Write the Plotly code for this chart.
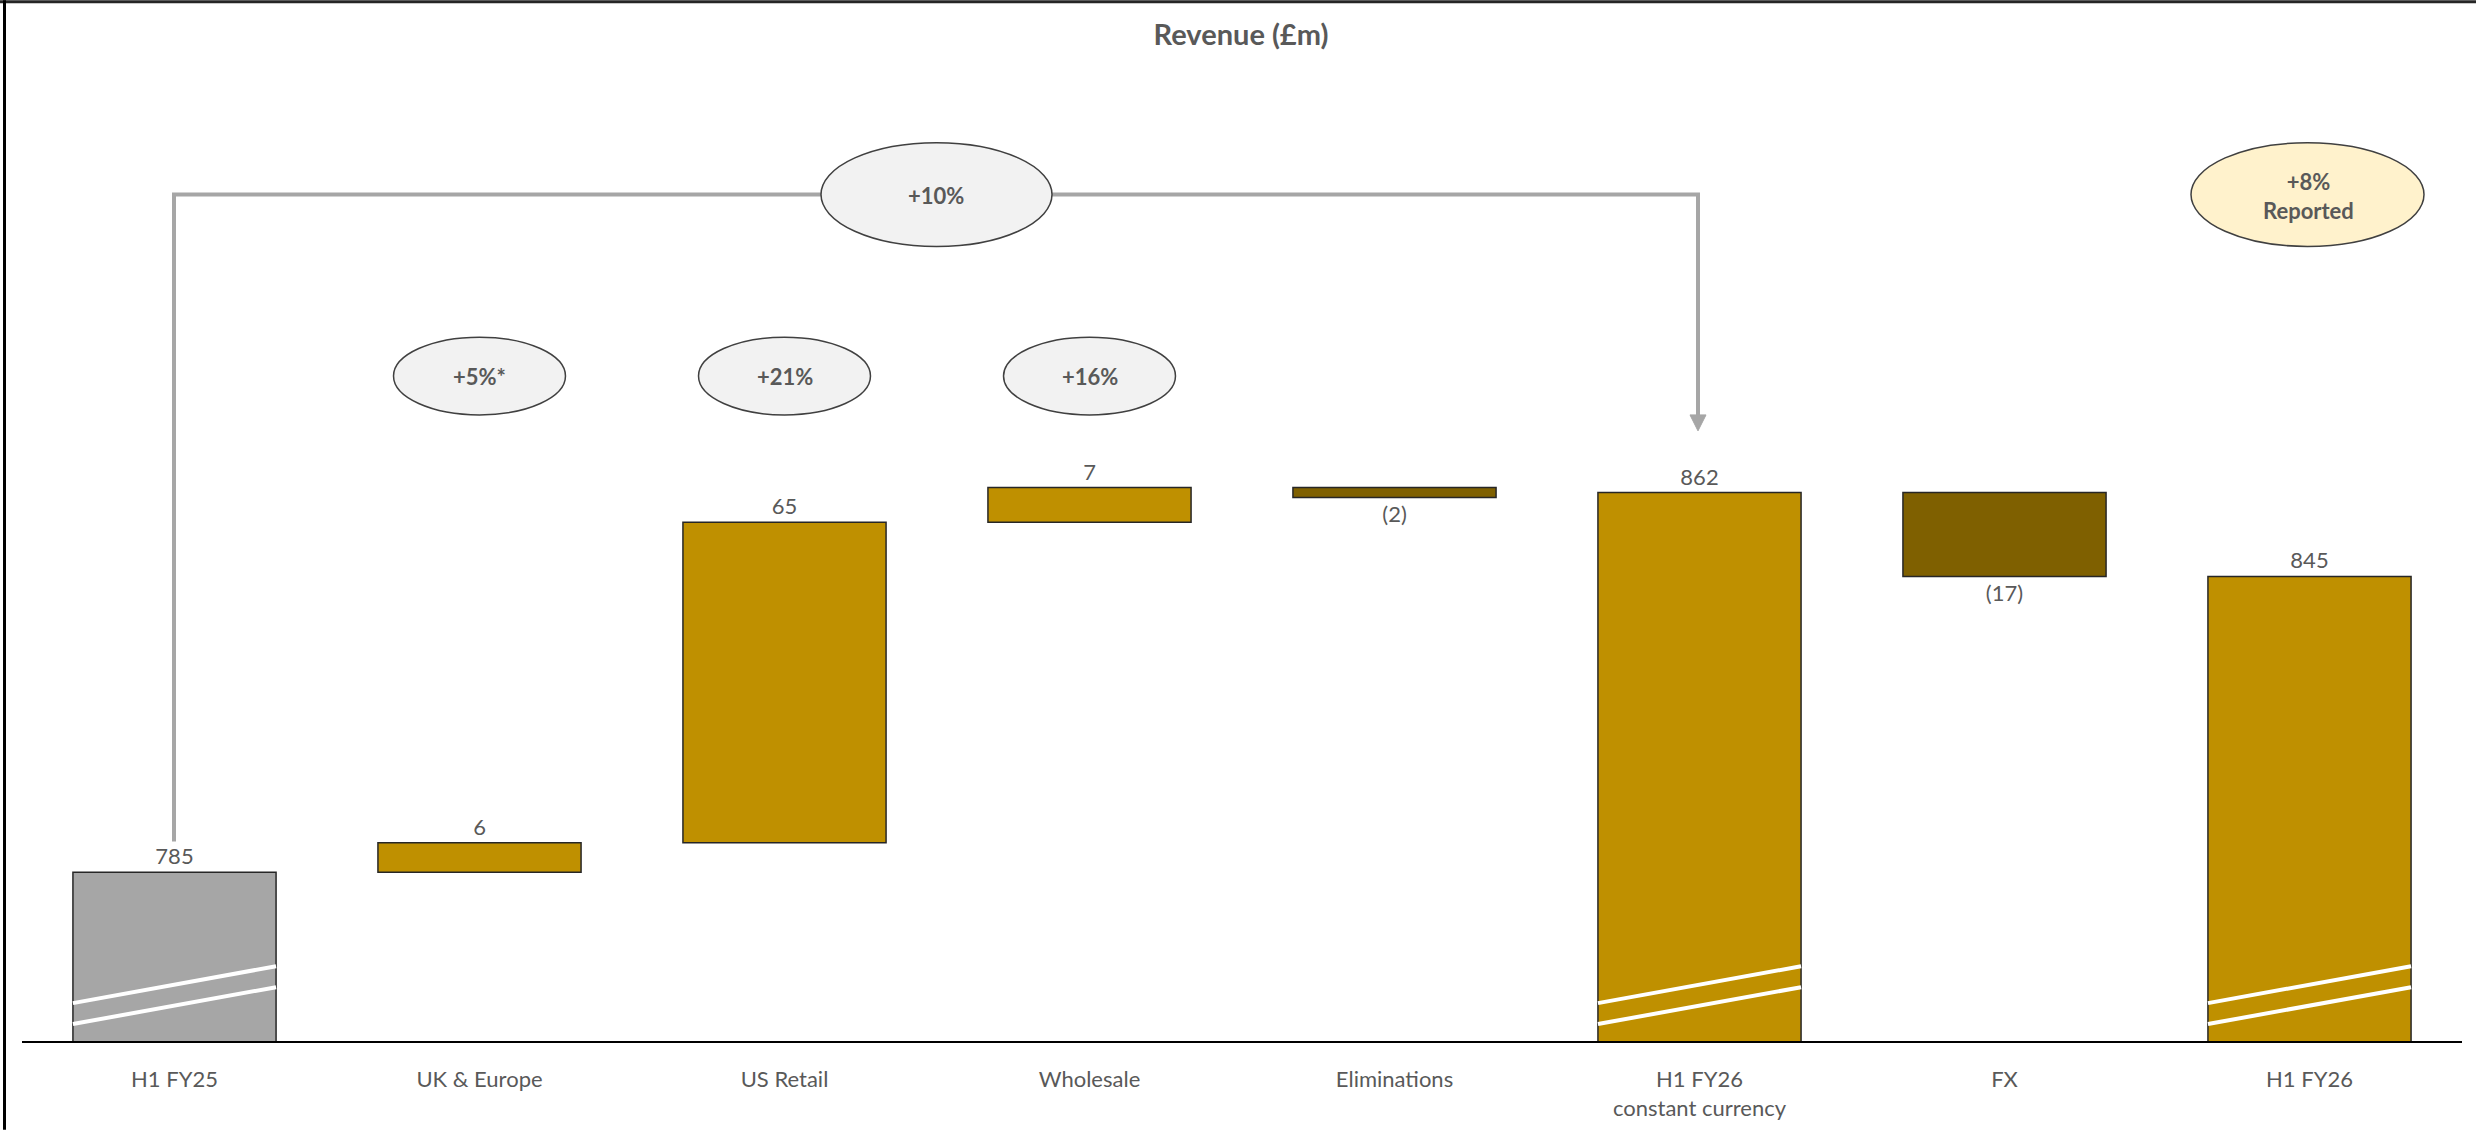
import plotly.graph_objects as go

# ---------------- data ----------------
categories = ["H1 FY25", "UK & Europe", "US Retail", "Wholesale", "Eliminations",
              "H1 FY26<br>constant currency", "FX", "H1 FY26"]
values = [785, 6, 65, 7, -2, 862, -17, 845]
kinds = ["total", "delta", "delta", "delta", "delta", "total", "delta", "total"]
value_labels = ["785", "6", "65", "7", "(2)", "862", "(17)", "845"]
growth_labels = ["+5%*", "+21%", "+16%"]
growth_cats = [1, 2, 3]
overall_label = "+10%"
reported_label = "+8%<br>Reported"
title_text = "Revenue (£m)"

# ---------------- styling ----------------
W, H = 2476, 1133
ML, MR, MT, MB = 22, 14, 60, 88
GOLD, DARK, GREY = "#BF9000", "#7F6000", "#A6A6A6"
TXT = "#595959"
FONT = "Lato, 'Open Sans', sans-serif"
Y_RANGE = [750.6, 949.7]

plot_w = W - ML - MR
plot_h = H - MT - MB


def px_x(px):
    return (px - ML) / plot_w


def px_y(py):
    return (H - MB - py) / plot_h


# waterfall bases from the data
bases, heights, colors = [], [], []
running = 0
for i, (v, k) in enumerate(zip(values, kinds)):
    if k == "total":
        bases.append(0)
        heights.append(v)
        running = v
        colors.append(GREY if i == 0 else GOLD)
    else:
        bases.append(running)
        heights.append(v)
        running += v
        colors.append(GOLD if v >= 0 else DARK)

xs = list(range(len(categories)))

fig = go.Figure()
fig.add_trace(go.Bar(
    x=xs, y=heights, base=bases, width=0.666,
    marker=dict(color=colors, line=dict(color="#262626", width=1.5)),
    text=value_labels, textposition="outside",
    textfont=dict(family=FONT, size=22, color=TXT),
    cliponaxis=False, hoverinfo="skip",
))

shapes = []
annotations = []

# break marks on total bars
for i, k in enumerate(kinds):
    if k == "total":
        for yl, yr in [(1006, 969), (1027, 990)]:
            shapes.append(dict(type="line", xref="x", yref="paper",
                               x0=i - 0.333, x1=i + 0.333,
                               y0=px_y(yl), y1=px_y(yr),
                               line=dict(color="white", width=4), layer="above"))

# small growth ellipses
for lab, c in zip(growth_labels, growth_cats):
    hw = 86 / 305.07
    shapes.append(dict(type="circle", xref="x", yref="paper",
                       x0=c - hw, x1=c + hw, y0=px_y(416), y1=px_y(338),
                       fillcolor="#F2F2F2", line=dict(color="#404040", width=1.5)))
    annotations.append(dict(x=c, y=px_y(377), xref="x", yref="paper", text="<b>%s</b>" % lab,
                            xanchor="center", yanchor="middle",
                            showarrow=False, font=dict(family=FONT, size=22, color=TXT)))

# connector line from H1 FY25 to H1 FY26 constant currency
shapes.append(dict(type="path", xref="paper", yref="paper",
                   path="M %f,%f L %f,%f L %f,%f L %f,%f" % (
                       px_x(174), px_y(844), px_x(174), px_y(195),
                       px_x(1698), px_y(195), px_x(1698), px_y(418)),
                   line=dict(color=GREY, width=4)))
shapes.append(dict(type="path", xref="paper", yref="paper",
                   path="M %f,%f L %f,%f L %f,%f Z" % (
                       px_x(1690), px_y(416), px_x(1706), px_y(416),
                       px_x(1698), px_y(432)),
                   fillcolor=GREY, line=dict(color=GREY, width=1)))

# overall +10% ellipse
shapes.append(dict(type="circle", xref="paper", yref="paper",
                   x0=px_x(821), x1=px_x(1052), y0=px_y(247), y1=px_y(143),
                   fillcolor="#F2F2F2", line=dict(color="#404040", width=1.5)))
annotations.append(dict(x=px_x(936), y=px_y(196), xref="paper", yref="paper",
                        text="<b>%s</b>" % overall_label, showarrow=False,
                        xanchor="center", yanchor="middle",
                        font=dict(family=FONT, size=22, color=TXT)))

# reported ellipse
shapes.append(dict(type="circle", xref="paper", yref="paper",
                   x0=px_x(2191), x1=px_x(2424), y0=px_y(247), y1=px_y(143),
                   fillcolor="#FFF2CC", line=dict(color="#404040", width=1.5)))
annotations.append(dict(x=px_x(2308), y=px_y(196), xref="paper", yref="paper",
                        text="<b>%s</b>" % reported_label, showarrow=False,
                        xanchor="center", yanchor="middle",
                        font=dict(family=FONT, size=22, color=TXT)))

# baseline
shapes.append(dict(type="line", xref="paper", yref="paper", x0=0, x1=1, y0=0, y1=0,
                   line=dict(color="black", width=2), layer="above"))

# frame (top and left)
shapes.append(dict(type="line", xref="paper", yref="paper",
                   x0=px_x(0), x1=px_x(W), y0=px_y(1.5), y1=px_y(1.5),
                   line=dict(color="#262626", width=3)))
shapes.append(dict(type="line", xref="paper", yref="paper",
                   x0=px_x(4.5), x1=px_x(4.5), y0=px_y(0), y1=px_y(H),
                   line=dict(color="black", width=3)))

fig.update_layout(
    width=W, height=H,
    margin=dict(l=ML, r=MR, t=MT, b=MB),
    paper_bgcolor="white", plot_bgcolor="white",
    showlegend=False,
    title=dict(text="<b>%s</b>" % title_text, x=1241 / W,
               xanchor="center", y=1 - 35 / H, yanchor="middle",
               font=dict(family=FONT, size=29, color=TXT)),
    xaxis=dict(tickmode="array", tickvals=xs, ticktext=categories,
               range=[-0.5, len(categories) - 0.5],
               showgrid=False, zeroline=False, showline=False, ticks="",
               ticklabelstandoff=22,
               tickfont=dict(family=FONT, size=22, color=TXT)),
    yaxis=dict(range=Y_RANGE, visible=False, showgrid=False, zeroline=False),
    shapes=shapes, annotations=annotations,
    bargap=0.33,
)

fig.write_html("out.html")
